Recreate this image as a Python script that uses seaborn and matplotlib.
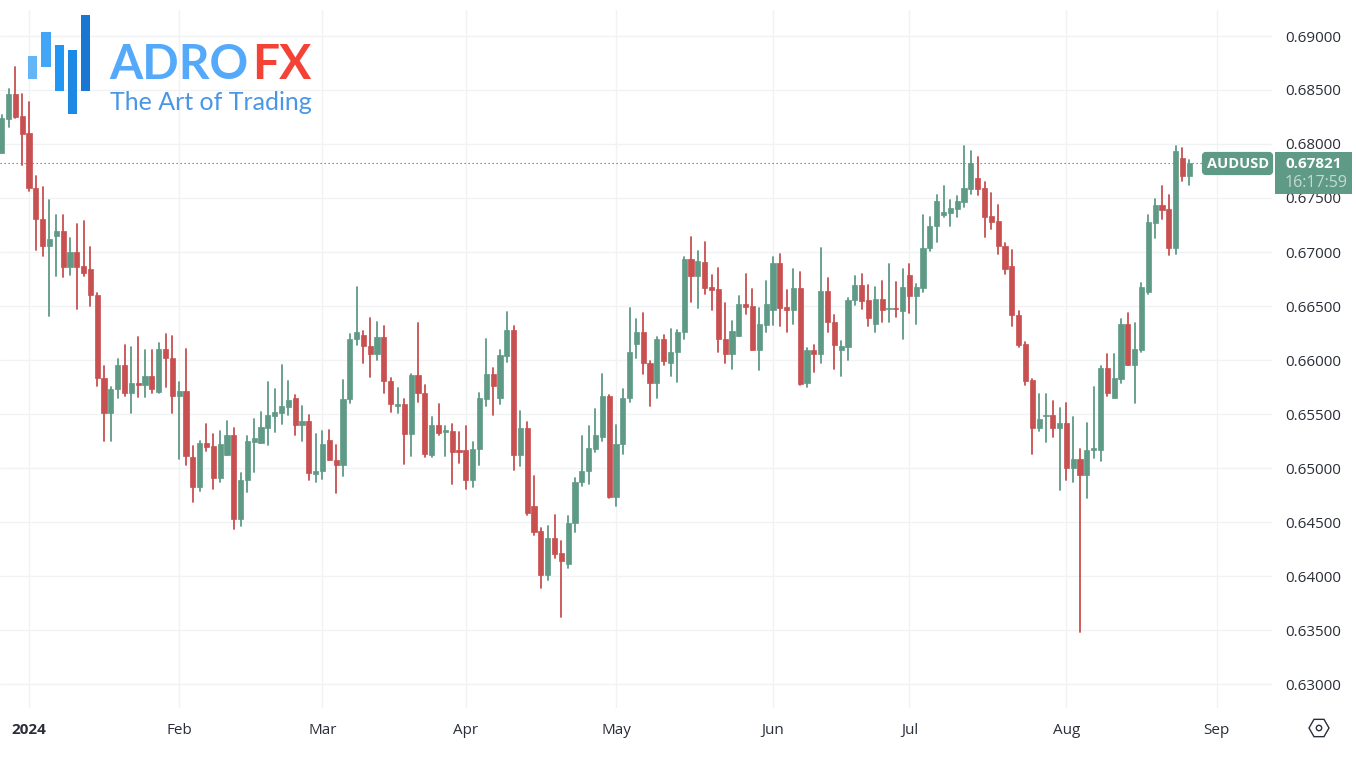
import matplotlib
matplotlib.use("Agg")
import matplotlib.pyplot as plt
from matplotlib.patches import Rectangle, FancyBboxPatch, RegularPolygon, Circle
import numpy as np
import pandas as pd
import seaborn as sns

direction = list("GGRRRRRGGRGRRRR" "RGGRGRGRGRRGRRG" "RRGGRGGGGGGGGRG" "RGGRRGGGRRGRRGR"
                 "GRRGRGRRRGGGRGG" "RGRRRGRRGGGGGGR" "GGGGRRGRGGGRGRR" "RRGGRRGGGRRGRGR"
                 "GRRGGGRRGRGRGRG" "GGGGGGGGRRRRRRR" "RRGGRGRGRGGGRGG" "RGGGGRRGRG")

high = [.68268,.68509,.68710,.68463,.68389,.67703,.67601,.67481,.67342,.67342,.67130,.67259,.67287,.67046,.66617,
        .65944,.65747,.66012,.66136,.66117,.66210,.66092,.66095,.66157,.66240,.66222,.65793,.66102,.65204,.65250,
        .65407,.65315,.65343,.65432,.65367,.64951,.65293,.65451,.65518,.65793,.65734,.65954,.65805,.65673,.65574,
        .65493,.65312,.65343,.65352,.65210,.65815,.66240,.66673,.66265,.66389,.66352,.66315,.65830,.65740,.65639,
        .65870,.66343,.65766,.65469,.65590,.65386,.65407,.65330,.65386,.65238,.65694,.66191,.65923,.66092,.66441,
        .66312,.65530,.65428,.64928,.64441,.64460,.64567,.64324,.64553,.64907,.65296,.65386,.65546,.65867,.65675,
        .65398,.65728,.66478,.66379,.66438,.65990,.66213,.66228,.66287,.66278,.66951,.67142,.67009,.67090,.66787,
        .66852,.66528,.66361,.66595,.66799,.66657,.66478,.66731,.66954,.66981,.66648,.66840,.66815,.66108,.66136,
        .67040,.66759,.66417,.66178,.66577,.66777,.66796,.66697,.66678,.66731,.66889,.66722,.66842,.66889,.66703,
        .67339,.67321,.67528,.67611,.67481,.67521,.67984,.67935,.67882,.67645,.67546,.67435,.67080,.67021,.66456,
        .66166,.65821,.65685,.65685,.65620,.65555,.65602,.65472,.65173,.65414,.65750,.65944,.66055,.66055,.66379,
        .66435,.66343,.66713,.67342,.67490,.67611,.67528,.67984,.67966,.67852]

body_top = [.68241,.68463,.68463,.68259,.68099,.67592,.67306,.67120,.67194,.67194,.67000,.67000,.66870,.66842,.66602,
            .65833,.65728,.65951,.65951,.65790,.65790,.65849,.65849,.66102,.66102,.66015,.65713,.65713,.65102,.65231,
            .65231,.65204,.65222,.65305,.65305,.64889,.65247,.65278,.65379,.65491,.65518,.65571,.65629,.65651,.65435,
            .65435,.64972,.65222,.65259,.65071,.65639,.66194,.66259,.66234,.66132,.66213,.66213,.65808,.65592,.65590,
            .65861,.65861,.65694,.65398,.65398,.65349,.65343,.65164,.65169,.65176,.65651,.65873,.65873,.66046,.66278,
            .66278,.65370,.65370,.64645,.64417,.64352,.64352,.64213,.64491,.64870,.64972,.65185,.65305,.65666,.65671,
            .65225,.65651,.66074,.66256,.66256,.65972,.66194,.66194,.66074,.66259,.66935,.66935,.66916,.66904,.66676,
            .66654,.66194,.66268,.66515,.66515,.66497,.66333,.66518,.66898,.66898,.66488,.66667,.66667,.66095,.66095,
            .66636,.66636,.66354,.66129,.66555,.66697,.66697,.66552,.66565,.66565,.66481,.66481,.66678,.66787,.66676,
            .67040,.67240,.67472,.67370,.67407,.67472,.67592,.67827,.67685,.67592,.67333,.67287,.67058,.66870,.66417,
            .66148,.65812,.65454,.65491,.65491,.65416,.65416,.65083,.65083,.65166,.65185,.65926,.65926,.65833,.66336,
            .66333,.66102,.66676,.67277,.67435,.67435,.67398,.67935,.67870,.67824]

body_bottom = [.67917,.68231,.68252,.68095,.67590,.67303,.67058,.67058,.67145,.66864,.66864,.66864,.66808,.66599,.65836,
               .65512,.65512,.65728,.65692,.65692,.65768,.65768,.65731,.65703,.66015,.65669,.65669,.65111,.64827,.64827,
               .65197,.64910,.64910,.65123,.64528,.64528,.64889,.65240,.65231,.65373,.65484,.65512,.65567,.65395,.65395,
               .64951,.64947,.64972,.65071,.65030,.65030,.65636,.66194,.66132,.66058,.66058,.65808,.65592,.65574,.65317,
               .65317,.65694,.65130,.65117,.65324,.65336,.65151,.65151,.64889,.64889,.65173,.65642,.65759,.65648,.66040,
               .65120,.65120,.64586,.64410,.64009,.64009,.64203,.64139,.64114,.64488,.64867,.64969,.65176,.65290,.64728,
               .64731,.65225,.65651,.66151,.65975,.65790,.65790,.65990,.65975,.66074,.66259,.66780,.66780,.66669,.66651,
               .66194,.66055,.66055,.66225,.66490,.66095,.66095,.66324,.66460,.66481,.66463,.66466,.65782,.65790,.66053,
               .66053,.66352,.66136,.66092,.66120,.66555,.66546,.66389,.66336,.66463,.66472,.66472,.66456,.66593,.66593,
               .66669,.67037,.67240,.67342,.67364,.67401,.67465,.67586,.67586,.67327,.67280,.67058,.66842,.66417,.66139,
               .65808,.65373,.65373,.65482,.65373,.65373,.64999,.64999,.64938,.64938,.65169,.65169,.65692,.65648,.65824,
               .65954,.65954,.66095,.66629,.67268,.67389,.67037,.67037,.67703,.67703]

low = [.67917,.68160,.68243,.67808,.67568,.67018,.66966,.66410,.66777,.66771,.66787,.66472,.66780,.66500,.65759,
       .65247,.65250,.65648,.65669,.65512,.65660,.65660,.65697,.65697,.65753,.65512,.65083,.65028,.64688,.64790,
       .65157,.64806,.64867,.65123,.64432,.64463,.64780,.64965,.65231,.65215,.65330,.65410,.65493,.65305,.65247,
       .64889,.64867,.64898,.65071,.64771,.64926,.65605,.66136,.65972,.65842,.65997,.65697,.65518,.65506,.65037,
       .65113,.65611,.65104,.65104,.65308,.65113,.64855,.65049,.64808,.64827,.65030,.65574,.65493,.65595,.65984,
       .64984,.65021,.64565,.64382,.63889,.63963,.64164,.63623,.64077,.64410,.64830,.64855,.65145,.65250,.64722,
       .64651,.65130,.65614,.66018,.65870,.65577,.65651,.65956,.65854,.65793,.66194,.66540,.66484,.66614,.66466,
       .66074,.65975,.65919,.66225,.66428,.66095,.65907,.66259,.66324,.66312,.66262,.66333,.65768,.65753,.65892,
       .65972,.66262,.65914,.65852,.66000,.66509,.66475,.66317,.66259,.66349,.66354,.66401,.66197,.66438,.66336,
       .66629,.67012,.67092,.67321,.67240,.67321,.67416,.67540,.67525,.67142,.67215,.66978,.66799,.66312,.66117,
       .65771,.65132,.65343,.65243,.65290,.64796,.64886,.64867,.63477,.64722,.65092,.65068,.65666,.65648,.65790,
       .65954,.65602,.66074,.66614,.67129,.67305,.66972,.66981,.67660,.67620]

tick_idx = [4, 26, 47, 68, 90, 113, 133, 156, 178]
tick_lab = ["2024", "Feb", "Mar", "Apr", "May", "Jun", "Jul", "Aug", "Sep"]
price_ticks = [.63, .635, .64, .645, .65, .655, .66, .665, .67, .675, .68, .685, .69]
last_price = 0.67821

GREEN = "#5f9a86"
RED = "#c85050"
GRID = "#f1f2f4"
TXT = "#2a2e39"

sns.set_theme(style="white")
plt.rcParams["font.family"] = ["Open Sans", "DejaVu Sans"]

W, H = 1356, 758
fig = plt.figure(figsize=(W / 100, H / 100), dpi=100, facecolor="white")
ax = fig.add_axes([0, (H - 708) / H, 1272 / W, 698 / H], facecolor="white")

n = len(direction)
idx = np.arange(n)
df = pd.DataFrame({"i": idx, "dir": direction, "high": high, "low": low,
                   "top": body_top, "bot": body_bottom})
df["body"] = df["top"] - df["bot"]

wicks = pd.concat([df.assign(p=df["high"]), df.assign(p=df["low"])]).sort_values("i")
sns.lineplot(data=wicks, x="i", y="p", units="i", estimator=None, hue="dir",
             palette={"G": GREEN, "R": RED}, lw=1.3, legend=False, ax=ax, sort=False, zorder=3)

for key, col in (("G", GREEN), ("R", RED)):
    sub = df[df["dir"] == key]
    sns.barplot(data=sub, x="i", y="body", bottom=sub["bot"].values, native_scale=True,
                color=col, saturation=1, width=0.76, errorbar=None,
                edgecolor=col, linewidth=0.5, ax=ax, zorder=4)

ax.axhline(last_price, color="#4f8a76", lw=0.8, ls=(0, (1.2, 2.4)), zorder=2)

ax.set_xlim((0 - 1.7) / 6.825, (1272 - 1.7) / 6.825)
ax.set_ylim(0.69 - (708 - 36) / 10800, 0.69 + 26 / 10800)
ax.set_xticks(tick_idx)
ax.set_xticklabels(tick_lab)
ax.set_yticks(price_ticks)
ax.set_yticklabels([f"{v:.5f}" for v in price_ticks])
ax.yaxis.tick_right()
ax.set_xlabel("")
ax.set_ylabel("")
ax.grid(True, color=GRID, lw=0.95, zorder=0)
ax.set_axisbelow(True)
for s in ax.spines.values():
    s.set_visible(False)
ax.tick_params(axis="y", length=0, pad=9.5, labelsize=11, labelcolor=TXT)
ax.tick_params(axis="x", length=0, pad=10.5, labelsize=11, labelcolor=TXT)
ax.get_xticklabels()[0].set_fontweight("bold")

# overlay in pixel coordinates: logo, price labels, settings icon
ov = fig.add_axes([0, 0, 1, 1], facecolor="none", zorder=10)
ov.set_xlim(0, W)
ov.set_ylim(H, 0)
ov.axis("off")

logo = [(28, 56, 37, 79, "#64b5f6"), (41, 32, 51, 67, "#42a5f5"), (55, 45, 64, 91, "#2196f3"),
        (68, 50, 77, 114, "#1e88e5"), (81, 15, 90, 91, "#1976d2")]
for x0, y0, x1, y1, c in logo:
    ov.add_patch(Rectangle((x0, y0), x1 - x0, y1 - y0, color=c, lw=0))
ov.text(109, 79, "ADRO", color="#55a9fb", fontsize=34.5, fontweight="bold", family="Lato", va="baseline", ha="left")
ov.text(252, 79, "FX", color="#f44336", fontsize=34.5, fontweight="bold", family="Lato", va="baseline", ha="left")
ov.text(110, 110, "The Art of Trading", color="#4a96e6", fontsize=18, family="Lato", fontweight="normal", va="baseline", ha="left")

ov.add_patch(FancyBboxPatch((1204, 154), 67, 19, boxstyle="round,pad=0,rounding_size=2", mutation_aspect=1,
                            fc=GREEN, ec=GREEN, lw=3))
ov.text(1238, 164, "AUDUSD", color="white", fontsize=10.5, fontweight="bold", ha="center", va="center")
ov.add_patch(Rectangle((1275, 152), 77, 42, color=GREEN, lw=0))
ov.text(1285, 164, "0.67821", color="white", fontsize=11, fontweight="bold", ha="left", va="center")
ov.text(1285, 183, "16:17:59", color="#c4dbd2", fontsize=11.5, ha="left", va="center")

ov.add_patch(RegularPolygon((1319, 728), 6, radius=10, orientation=np.pi / 6, fill=False, ec="#2a2e39", lw=1.0))
ov.add_patch(Circle((1319, 728), 2.7, fill=False, ec="#2a2e39", lw=1.0))

fig.savefig("out.png", dpi=100)
